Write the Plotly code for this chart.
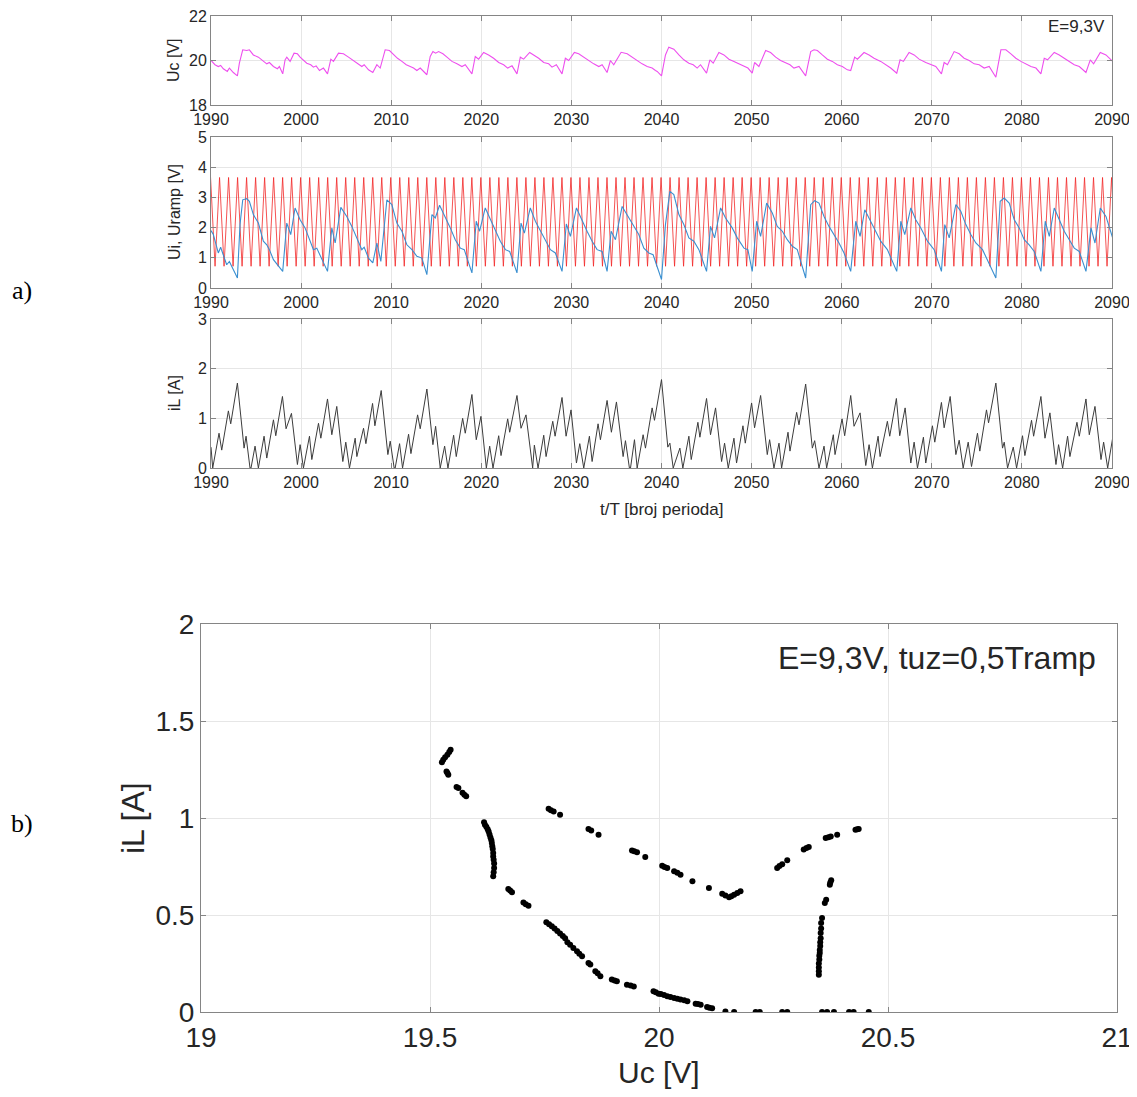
import plotly.graph_objects as go

W, H = 1137, 1097          # browser window
PAGE_MARGIN = 8            # default body margin of the html page
FW, FH = W - 2 * PAGE_MARGIN, H - 2 * PAGE_MARGIN

# ---------------- a) top panel : capacitor voltage Uc [V] ----------------
uc_t = [1990.00, 1990.44, 1990.81, 1991.07, 1991.37, 1991.81, 1992.04, 1992.48, 1992.93, 1993.15,
        1993.52, 1993.96, 1994.26, 1994.70, 1995.26, 1995.81, 1996.19, 1996.48, 1996.93, 1997.37,
        1997.59, 1997.96, 1998.22, 1998.41, 1998.78, 1999.22, 1999.59, 1999.89, 2000.26, 2000.63,
        2001.07, 2001.37, 2001.67, 2002.04, 2002.48, 2002.93, 2003.30, 2003.59, 2004.15, 2004.70,
        2005.26, 2005.81, 2006.37, 2006.74, 2007.00, 2007.48, 2007.96, 2008.41, 2008.78, 2009.33,
        2009.81, 2010.26, 2010.70, 2011.19, 2011.67, 2012.11, 2012.48, 2012.85, 2013.22, 2013.96,
        2014.33, 2014.63, 2014.93, 2015.26, 2015.74, 2016.19, 2016.74, 2017.30, 2017.85, 2018.22,
        2018.96, 2019.33, 2019.70, 2020.26, 2020.81, 2021.37, 2021.93, 2022.48, 2022.93, 2023.41,
        2023.96, 2024.33, 2024.70, 2025.37, 2025.81, 2026.37, 2026.93, 2027.48, 2027.85, 2028.33,
        2028.96, 2029.33, 2029.70, 2030.33, 2030.81, 2031.37, 2031.93, 2032.48, 2033.04, 2033.41,
        2033.96, 2034.33, 2034.70, 2035.52, 2036.19, 2036.74, 2037.30, 2037.85, 2038.41, 2038.96,
        2039.33, 2039.52, 2040.00, 2040.44, 2040.81, 2041.37, 2041.93, 2042.48, 2043.04, 2043.52,
        2043.96, 2044.33, 2045.00, 2045.37, 2045.74, 2046.37, 2046.93, 2047.48, 2048.04, 2048.59,
        2049.15, 2049.59, 2050.07, 2050.33, 2050.81, 2051.56, 2052.11, 2052.67, 2053.22, 2053.78,
        2054.26, 2054.70, 2055.26, 2056.00, 2056.56, 2056.93, 2057.30, 2057.85, 2058.41, 2058.96,
        2059.52, 2060.07, 2060.63, 2061.00, 2061.44, 2061.74, 2062.48, 2063.04, 2063.59, 2064.33,
        2064.89, 2065.44, 2066.11, 2066.48, 2066.85, 2067.48, 2068.04, 2068.59, 2069.33, 2069.89,
        2070.44, 2071.07, 2071.37, 2071.74, 2072.48, 2073.04, 2073.59, 2074.15, 2074.70, 2075.26,
        2075.81, 2076.37, 2077.11, 2077.67, 2078.22, 2078.78, 2079.33, 2079.89, 2080.44, 2081.00,
        2081.56, 2082.11, 2082.48, 2082.85, 2083.59, 2084.15, 2084.70, 2085.26, 2085.81, 2086.37,
        2087.11, 2087.59, 2087.96, 2088.70, 2089.33, 2090.07]
uc_v = [20.00, 19.81, 19.73, 19.78, 19.63, 19.51, 19.66, 19.46, 19.31, 19.88,
        20.48, 20.45, 20.48, 20.25, 20.15, 19.96, 19.85, 19.91, 19.73, 19.63,
        19.73, 19.40, 20.03, 20.15, 19.96, 20.33, 20.30, 20.15, 20.03, 19.88,
        19.81, 19.70, 19.76, 19.55, 19.66, 19.40, 20.06, 19.96, 20.33, 20.30,
        20.15, 20.00, 19.85, 19.73, 19.81, 19.58, 19.46, 19.81, 19.66, 20.48,
        20.45, 20.25, 20.10, 19.96, 19.81, 19.73, 19.66, 19.55, 19.66, 19.36,
        20.18, 20.40, 20.33, 20.40, 20.30, 20.15, 19.96, 19.85, 19.73, 19.81,
        19.40, 20.18, 20.06, 20.36, 20.25, 20.10, 19.91, 19.81, 19.66, 19.76,
        19.40, 20.15, 20.06, 20.36, 20.25, 20.10, 19.91, 19.85, 19.70, 19.81,
        19.40, 20.10, 20.00, 20.36, 20.30, 20.15, 19.96, 19.85, 19.73, 19.81,
        19.46, 20.00, 19.81, 20.37, 20.30, 20.15, 19.96, 19.85, 19.73, 19.66,
        19.55, 19.51, 19.31, 20.25, 20.60, 20.51, 20.25, 20.03, 19.88, 19.81,
        19.66, 19.81, 19.43, 20.03, 19.88, 20.36, 20.25, 20.06, 19.96, 19.85,
        19.73, 19.66, 19.43, 19.91, 19.73, 20.45, 20.36, 20.15, 20.00, 19.88,
        19.81, 19.66, 19.73, 19.31, 20.40, 20.48, 20.45, 20.25, 20.06, 19.96,
        19.81, 19.73, 19.58, 19.55, 20.15, 20.06, 20.36, 20.25, 20.10, 19.96,
        19.81, 19.66, 19.43, 20.03, 19.96, 20.36, 20.25, 20.06, 19.91, 19.81,
        19.73, 19.40, 19.91, 19.81, 20.40, 20.30, 20.10, 20.00, 19.85, 19.81,
        19.66, 19.73, 19.25, 20.48, 20.48, 20.30, 20.10, 19.96, 19.85, 19.73,
        19.66, 19.40, 20.10, 20.03, 20.36, 20.25, 20.10, 19.96, 19.81, 19.73,
        19.46, 20.03, 19.85, 20.36, 20.25, 19.96]

# ---------------- a) middle panel : Ui and Uramp [V] ----------------
# ramp: triangular carrier, one tooth per period T (levels)
ramp_low = 0.72
ramp_high = 3.66
ramp_periods = list(range(1989, 2091))

ui_t = [1990.00, 1990.26, 1990.81, 1991.07, 1991.74, 1992.04, 1992.93, 1993.22, 1993.52, 1993.96,
        1994.26, 1994.70, 1995.26, 1995.81, 1996.19, 1996.48, 1996.93, 1997.37, 1997.96, 1998.41,
        1998.85, 1999.33, 1999.89, 2000.44, 2001.00, 2001.37, 2001.74, 2002.30, 2002.93, 2003.41,
        2003.78, 2004.41, 2005.07, 2005.63, 2006.19, 2006.74, 2007.00, 2007.48, 2007.96, 2008.41,
        2008.85, 2009.52, 2010.07, 2010.63, 2011.19, 2011.74, 2012.30, 2012.85, 2013.41, 2013.96,
        2014.52, 2014.89, 2015.37, 2016.00, 2016.56, 2017.11, 2017.67, 2018.11, 2018.96, 2019.44,
        2019.81, 2020.44, 2021.00, 2021.56, 2022.11, 2022.67, 2023.15, 2023.96, 2024.41, 2024.78,
        2025.44, 2026.00, 2026.56, 2027.11, 2027.67, 2028.22, 2028.96, 2029.44, 2029.89, 2030.56,
        2031.19, 2031.74, 2032.30, 2032.85, 2033.41, 2033.96, 2034.41, 2034.89, 2035.63, 2036.19,
        2036.93, 2037.48, 2038.04, 2038.59, 2039.07, 2040.00, 2040.44, 2040.93, 2041.37, 2041.93,
        2042.48, 2043.04, 2043.59, 2044.15, 2045.00, 2045.44, 2045.89, 2046.56, 2047.11, 2047.85,
        2048.41, 2049.15, 2049.59, 2050.07, 2050.56, 2051.00, 2051.67, 2052.30, 2052.85, 2053.41,
        2053.96, 2054.52, 2055.07, 2056.00, 2056.56, 2057.00, 2057.48, 2058.04, 2058.59, 2059.15,
        2059.70, 2060.26, 2061.00, 2061.56, 2062.04, 2062.56, 2063.22, 2063.78, 2064.33, 2065.07,
        2066.11, 2066.56, 2067.00, 2067.67, 2068.22, 2068.78, 2069.52, 2070.26, 2071.07, 2071.44,
        2071.93, 2072.67, 2073.22, 2073.78, 2074.33, 2074.89, 2075.63, 2077.11, 2077.59, 2078.04,
        2078.59, 2079.15, 2079.70, 2080.26, 2080.81, 2081.37, 2082.11, 2082.59, 2083.04, 2083.59,
        2084.15, 2084.70, 2085.26, 2085.81, 2086.37, 2087.11, 2087.67, 2088.11, 2088.70, 2089.33,
        2090.07]
ui_v = [1.90, 1.77, 1.16, 1.35, 0.77, 0.88, 0.33, 2.10, 2.92, 2.96,
        2.87, 2.43, 2.15, 1.55, 1.43, 1.27, 0.94, 0.77, 0.55, 2.15,
        1.77, 2.65, 2.26, 1.99, 1.55, 1.27, 1.32, 0.94, 0.55, 1.99,
        1.49, 2.67, 2.37, 2.04, 1.66, 1.27, 1.35, 0.99, 0.83, 1.49,
        0.88, 2.92, 2.76, 2.15, 1.88, 1.43, 1.27, 1.05, 0.99, 0.44,
        2.43, 2.32, 2.74, 2.37, 1.99, 1.60, 1.32, 1.27, 0.50, 2.21,
        1.88, 2.65, 2.26, 1.88, 1.55, 1.27, 1.21, 0.50, 2.15, 1.82,
        2.65, 2.21, 1.88, 1.55, 1.27, 1.16, 0.55, 2.12, 1.71, 2.65,
        2.21, 1.88, 1.55, 1.27, 1.21, 0.55, 1.88, 1.60, 2.70, 2.43,
        2.04, 1.77, 1.32, 1.16, 1.10, 0.28, 2.10, 3.20, 3.09, 2.43,
        2.10, 1.66, 1.55, 1.27, 0.55, 2.04, 1.66, 2.65, 2.32, 1.99,
        1.66, 1.32, 1.27, 0.55, 2.21, 1.71, 2.81, 2.48, 2.04, 1.88,
        1.60, 1.38, 1.27, 0.33, 2.76, 2.89, 2.81, 2.37, 2.04, 1.77,
        1.49, 1.16, 0.55, 2.21, 1.71, 2.59, 2.21, 1.88, 1.55, 1.27,
        0.55, 2.21, 1.77, 2.65, 2.26, 1.99, 1.55, 1.27, 0.55, 2.10,
        1.66, 2.76, 2.54, 2.10, 1.77, 1.49, 1.27, 0.33, 2.87, 2.98,
        2.81, 2.26, 1.99, 1.60, 1.43, 1.21, 0.55, 2.21, 1.71, 2.65,
        2.26, 1.88, 1.60, 1.32, 1.21, 0.55, 1.99, 1.49, 2.65, 2.37,
        1.66]

# ---------------- a) bottom panel : inductor current iL [A] ----------------
il_t = [1990.00, 1990.19, 1990.89, 1991.19, 1991.93, 1992.19, 1992.93, 1993.67, 1993.89, 1994.33,
        1994.44, 1994.89, 1995.26, 1995.89, 1996.19, 1996.93, 1997.19, 1997.93, 1998.33, 1998.93,
        1999.59, 1999.89, 2000.26, 2000.93, 2001.19, 2001.93, 2002.19, 2002.93, 2003.41, 2003.96,
        2004.63, 2004.96, 2005.37, 2006.00, 2006.19, 2006.93, 2007.19, 2007.93, 2008.19, 2008.89,
        2009.63, 2009.89, 2010.33, 2010.44, 2010.93, 2011.26, 2011.93, 2012.19, 2012.93, 2013.22,
        2013.96, 2014.63, 2014.93, 2015.44, 2015.93, 2016.30, 2016.93, 2017.22, 2017.93, 2018.22,
        2018.96, 2019.44, 2019.96, 2020.56, 2020.93, 2021.30, 2021.93, 2022.19, 2022.93, 2023.15,
        2023.96, 2024.41, 2024.96, 2025.56, 2025.70, 2025.89, 2026.30, 2026.93, 2027.19, 2027.93,
        2028.19, 2028.96, 2029.41, 2029.96, 2030.56, 2030.93, 2031.37, 2032.00, 2032.30, 2032.96,
        2033.22, 2033.96, 2034.44, 2035.00, 2035.74, 2036.00, 2036.44, 2036.56, 2037.00, 2037.30,
        2037.96, 2038.22, 2038.96, 2039.22, 2040.00, 2040.70, 2040.93, 2041.30, 2042.04, 2042.37,
        2043.04, 2043.30, 2044.04, 2044.26, 2045.00, 2045.44, 2046.00, 2046.67, 2047.00, 2047.41,
        2048.04, 2048.33, 2049.04, 2049.30, 2050.00, 2050.33, 2051.00, 2051.74, 2052.00, 2052.48,
        2053.04, 2053.33, 2054.04, 2054.26, 2055.00, 2055.26, 2056.00, 2056.74, 2057.00, 2057.48,
        2058.04, 2058.33, 2059.07, 2059.26, 2060.04, 2060.33, 2061.00, 2061.37, 2062.04, 2062.67,
        2063.04, 2063.41, 2064.04, 2064.26, 2065.07, 2065.33, 2066.07, 2066.44, 2067.04, 2067.67,
        2068.04, 2068.41, 2069.07, 2069.33, 2070.07, 2070.33, 2071.07, 2071.37, 2072.04, 2072.67,
        2073.04, 2073.48, 2074.04, 2074.41, 2075.07, 2075.33, 2076.07, 2076.30, 2077.11, 2077.85,
        2078.04, 2078.41, 2079.04, 2079.41, 2080.07, 2080.33, 2081.07, 2081.30, 2082.11, 2082.56,
        2083.11, 2083.78, 2084.07, 2084.52, 2085.07, 2085.33, 2086.11, 2086.37, 2087.11, 2087.48,
        2088.11, 2088.78, 2089.07, 2089.52, 2090.07]
il_v = [0.42, 0.00, 0.70, 0.36, 1.15, 0.89, 1.71, 0.40, 0.64, 0.00,
        0.00, 0.44, 0.00, 0.64, 0.20, 0.97, 0.65, 1.44, 0.79, 1.10,
        0.07, 0.47, 0.00, 0.64, 0.17, 0.90, 0.60, 1.39, 0.67, 1.24,
        0.13, 0.52, 0.00, 0.60, 0.23, 0.80, 0.49, 1.30, 0.85, 1.56,
        0.27, 0.54, 0.00, 0.00, 0.49, 0.00, 0.68, 0.29, 1.07, 0.79,
        1.59, 0.47, 0.84, 0.00, 0.44, 0.00, 0.66, 0.23, 1.00, 0.70,
        1.48, 0.57, 1.04, 0.00, 0.44, 0.00, 0.65, 0.25, 0.99, 0.72,
        1.46, 0.80, 1.07, 0.10, 0.00, 0.46, 0.00, 0.66, 0.23, 0.94,
        0.64, 1.42, 0.64, 1.17, 0.10, 0.49, 0.00, 0.64, 0.13, 0.89,
        0.57, 1.36, 0.72, 1.33, 0.23, 0.55, 0.00, 0.00, 0.57, 0.00,
        0.67, 0.40, 1.21, 0.96, 1.78, 0.42, 0.50, 0.00, 0.40, 0.00,
        0.64, 0.17, 0.92, 0.62, 1.40, 0.67, 1.21, 0.13, 0.50, 0.00,
        0.60, 0.10, 0.85, 0.50, 1.31, 0.81, 1.46, 0.27, 0.57, 0.00,
        0.50, 0.00, 0.72, 0.34, 1.12, 0.87, 1.69, 0.40, 0.55, 0.00,
        0.44, 0.00, 0.67, 0.27, 0.99, 0.65, 1.46, 0.84, 1.11, 0.05,
        0.47, 0.00, 0.64, 0.23, 0.94, 0.64, 1.40, 0.65, 1.21, 0.10,
        0.52, 0.00, 0.62, 0.10, 0.85, 0.52, 1.32, 0.81, 1.44, 0.27,
        0.56, 0.00, 0.52, 0.03, 0.70, 0.34, 1.17, 0.91, 1.71, 0.40,
        0.52, 0.00, 0.42, 0.00, 0.65, 0.25, 0.96, 0.64, 1.44, 0.60,
        1.11, 0.07, 0.47, 0.00, 0.64, 0.23, 0.92, 0.64, 1.39, 0.67,
        1.24, 0.17, 0.52, 0.00, 0.60]

# ---------------- b) Poincare map : sampled (Uc, iL) ----------------
pc_uc = [19.526, 19.529, 19.533, 19.538, 19.542, 19.545,
         19.536, 19.538, 19.540,
         19.558, 19.562, 19.571, 19.575, 19.579,
         19.618, 19.620, 19.623, 19.626, 19.628, 19.630, 19.632, 19.634, 19.635, 19.636,
         19.637, 19.638, 19.638, 19.639, 19.640, 19.640, 19.639, 19.638,
         19.671, 19.675, 19.679,
         19.704, 19.709, 19.715,
         19.754, 19.760, 19.766, 19.772, 19.778, 19.784, 19.790, 19.795, 19.800, 19.806,
         19.813, 19.821, 19.826, 19.832, 19.846, 19.850, 19.861, 19.866, 19.872,
         19.897, 19.903, 19.908,
         19.930, 19.938, 19.945,
         19.988, 19.993, 19.999, 20.004, 20.011, 20.018, 20.025, 20.033, 20.040, 20.047,
         20.055, 20.062, 20.080, 20.085, 20.091, 20.105, 20.110, 20.116, 20.145, 20.164,
         20.211, 20.220, 20.269, 20.280, 20.356, 20.367, 20.382, 20.415, 20.425, 20.458,
         19.759, 19.764, 19.770, 19.784,
         19.846, 19.852, 19.868,
         19.941, 19.946, 19.952, 19.970,
         20.007, 20.012, 20.018, 20.033, 20.040, 20.047, 20.073, 20.109,
         20.138, 20.145, 20.153, 20.158, 20.164, 20.171, 20.178,
         20.258, 20.263, 20.269, 20.280, 20.316, 20.322, 20.327, 20.364, 20.370, 20.375,
         20.389, 20.429, 20.433, 20.436,
         20.349, 20.349, 20.349, 20.349, 20.350, 20.350, 20.351, 20.351, 20.352, 20.352,
         20.353, 20.353, 20.354, 20.354, 20.356, 20.362, 20.365, 20.373, 20.374, 20.376]
pc_il = [1.287, 1.300, 1.313, 1.326, 1.340, 1.352,
         1.240, 1.232, 1.223,
         1.160, 1.155, 1.130, 1.120, 1.112,
         0.978, 0.965, 0.955, 0.942, 0.931, 0.915, 0.900, 0.885, 0.871, 0.855,
         0.840, 0.820, 0.802, 0.785, 0.765, 0.742, 0.720, 0.700,
         0.634, 0.626, 0.617,
         0.565, 0.556, 0.548,
         0.462, 0.452, 0.442, 0.430, 0.418, 0.405, 0.392, 0.380, 0.360, 0.347,
         0.330, 0.313, 0.300, 0.287, 0.253, 0.245, 0.210, 0.200, 0.184,
         0.167, 0.162, 0.158,
         0.141, 0.136, 0.132,
         0.107, 0.102, 0.094, 0.093, 0.087, 0.081, 0.077, 0.072, 0.068, 0.064,
         0.060, 0.055, 0.043, 0.041, 0.038, 0.026, 0.022, 0.019, 0.003, 0.000,
         0.000, 0.000, 0.000, 0.000, 0.000, 0.000, 0.000, 0.000, 0.000, 0.000,
         1.048, 1.040, 1.034, 1.017,
         0.943, 0.935, 0.914,
         0.833, 0.828, 0.823, 0.799,
         0.754, 0.748, 0.742, 0.725, 0.718, 0.708, 0.674, 0.639,
         0.610, 0.600, 0.591, 0.597, 0.605, 0.614, 0.622,
         0.742, 0.752, 0.762, 0.782, 0.837, 0.845, 0.851, 0.897, 0.901, 0.905,
         0.914, 0.940, 0.942, 0.943,
         0.192, 0.210, 0.230, 0.250, 0.270, 0.290, 0.304, 0.320, 0.340, 0.360,
         0.380, 0.407, 0.430, 0.459, 0.485, 0.562, 0.579, 0.656, 0.667, 0.679]

# ---------------- text ----------------
label_a = "a)"
label_b = "b)"
top_note = "E=9,3V"
map_note = "E=9,3V, tuz=0,5Tramp"
x_title_a = "t/T [broj perioda]"
y_titles_a = ["Uc [V]", "Ui, Uramp [V]", "iL [A]"]
x_title_b = "Uc [V]"
y_title_b = "iL [A]"

# build the triangular ramp vertices from its read levels
ramp_t, ramp_v = [], []
for n in ramp_periods:
    ramp_t += [n + 0.45, n + 0.95]
    ramp_v += [ramp_low, ramp_high]

SANS = "Liberation Sans, Arial, sans-serif"
TXT = "#262626"
GRID = "#e6e6e6"
BOX = "#858585"


def px_x(p):
    return (p - PAGE_MARGIN) / FW


def px_y(p):
    return 1 - (p - PAGE_MARGIN) / FH


fig = go.Figure()
fig.add_trace(go.Scatter(x=uc_t, y=uc_v, mode="lines", line=dict(color="#ee4fee", width=1.1),
                         xaxis="x", yaxis="y"))
fig.add_trace(go.Scatter(x=ramp_t, y=ramp_v, mode="lines", line=dict(color="#f22626", width=0.8),
                         xaxis="x2", yaxis="y2"))
fig.add_trace(go.Scatter(x=ui_t, y=ui_v, mode="lines", line=dict(color="#3a8fd0", width=1.1),
                         xaxis="x2", yaxis="y2"))
fig.add_trace(go.Scatter(x=il_t, y=il_v, mode="lines", line=dict(color="#3c3c3c", width=1.0),
                         xaxis="x3", yaxis="y3"))
fig.add_trace(go.Scatter(x=pc_uc, y=pc_il, mode="markers",
                         marker=dict(color="black", size=6, line=dict(width=0)),
                         xaxis="x4", yaxis="y4"))


def axis(domain, rng, dtick, size, anchor, tick0=None):
    d = dict(domain=domain, range=rng, dtick=dtick, anchor=anchor, automargin=False,
             ticklabeloverflow="allow",
             showgrid=True, gridcolor=GRID, gridwidth=1, zeroline=False,
             showline=True, linecolor=BOX, linewidth=1, mirror="ticks",
             ticks="inside", ticklen=5, tickcolor=BOX,
             tickfont=dict(family=SANS, size=size, color=TXT), fixedrange=True)
    if tick0 is not None:
        d["tick0"] = tick0
    return d


xa = [px_x(211), px_x(1112)]
xb = [px_x(201), px_x(1117)]

layout = dict(
    width=FW, height=FH, margin=dict(l=0, r=0, t=0, b=0, pad=0, autoexpand=False),
    paper_bgcolor="white", plot_bgcolor="white", showlegend=False,
    xaxis=axis(xa, [1990, 2090], 10, 16, "y", 1990),
    yaxis=axis([px_y(105), px_y(16)], [18, 22], 2, 16, "x", 18),
    xaxis2=axis(xa, [1990, 2090], 10, 16, "y2", 1990),
    yaxis2=axis([px_y(288), px_y(137)], [0, 5], 1, 16, "x2", 0),
    xaxis3=axis(xa, [1990, 2090], 10, 16, "y3", 1990),
    yaxis3=axis([px_y(468), px_y(319)], [0, 3], 1, 16, "x3", 0),
    xaxis4=axis(xb, [19, 21], 0.5, 28, "y4", 19),
    yaxis4=axis([px_y(1012), px_y(624)], [0, 2], 0.5, 28, "x4", 0),
)

ann = []


def text(x, y, s, size, family=SANS, angle=0, xanchor="center", yanchor="middle"):
    ann.append(dict(x=px_x(x), y=px_y(y), xref="paper", yref="paper", text=s,
                    showarrow=False, textangle=angle, xanchor=xanchor, yanchor=yanchor,
                    font=dict(family=family, size=size, color=TXT if family == SANS else "black")))


text(1107, 27, top_note, 17, xanchor="right")
text(174, 60, y_titles_a[0], 16, angle=-90)
text(174, 212, y_titles_a[1], 16, angle=-90)
text(174, 393, y_titles_a[2], 16, angle=-90)
text(661, 509, x_title_a, 17)
text(1098, 658, map_note, 32, xanchor="right")
text(659, 1072, x_title_b, 30)
text(133, 818, y_title_b, 32, angle=-90)
text(22, 291, label_a, 26, family="Liberation Serif, Times New Roman, serif")
text(22, 823, label_b, 26, family="Liberation Serif, Times New Roman, serif")
layout["annotations"] = ann

fig.update_layout(**layout)
fig.write_html("out.html")
